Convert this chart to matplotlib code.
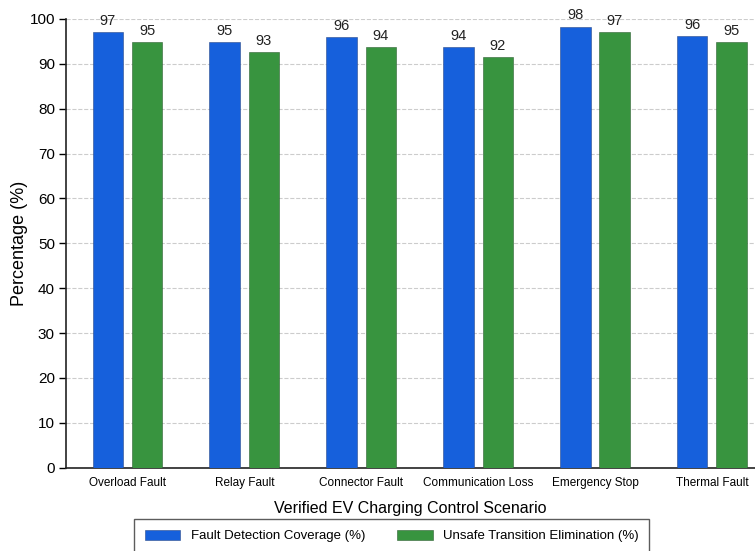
import matplotlib
matplotlib.use("Agg")
import matplotlib.pyplot as plt
import numpy as np

plt.rcParams['font.family'] = ['Liberation Sans', 'DejaVu Sans']

scenarios = ["Overload Fault", "Relay Fault", "Connector Fault",
             "Communication Loss", "Emergency Stop", "Thermal Fault"]
fault_detection = [97.1, 94.8, 95.9, 93.8, 98.3, 96.1]
unsafe_elimination = [94.9, 92.7, 93.8, 91.6, 97.1, 94.9]
series_names = ["Fault Detection Coverage (%)", "Unsafe Transition Elimination (%)"]

fig = plt.figure(figsize=(7.55, 5.51), dpi=100)
ax = fig.add_axes([66 / 755, 1 - 467.7 / 551, 689 / 755, (467.7 - 19) / 551])

x = np.arange(len(scenarios))
w = 0.26
off = 0.168
b1 = ax.bar(x - off, fault_detection, w, color='#1660DC', edgecolor='#2a4a8a',
            linewidth=0.4, label=series_names[0], zorder=3)
b2 = ax.bar(x + off, unsafe_elimination, w, color='#38943F', edgecolor='#2f5f33',
            linewidth=0.4, label=series_names[1], zorder=3)

for bars in (b1, b2):
    ax.bar_label(bars, labels=[f"{v:.0f}" for v in bars.datavalues],
                 padding=3, fontsize=10.5, color='#222222')

ax.set_ylim(0, 100)
ax.set_xlim(-0.525, -0.525 + 689 / 116.9)
ax.set_yticks(range(0, 101, 10))
ax.set_xticks(x)
ax.set_xticklabels(scenarios, fontsize=8.5)
ax.tick_params(axis='y', labelsize=11, length=5, width=1, pad=3)
ax.tick_params(axis='x', length=0, pad=7)

ax.yaxis.grid(True, linestyle='--', color='#cccccc', linewidth=0.8)
ax.set_axisbelow(True)
for s in ('top', 'right'):
    ax.spines[s].set_visible(False)
for s in ('left', 'bottom'):
    ax.spines[s].set_linewidth(1.2)
    ax.spines[s].set_color('#222222')

ax.set_xlabel("Verified EV Charging Control Scenario", fontsize=11.5, labelpad=8)
ax.set_ylabel("Percentage (%)", fontsize=13)
ax.yaxis.set_label_coords(-0.055, 0.5)

leg = fig.legend(loc='upper center', bbox_to_anchor=(0.519, 0.058), ncol=2,
                 fontsize=9.5, frameon=True, fancybox=False, edgecolor='#333333',
                 handlelength=2.7, handleheight=0.8, columnspacing=2.4,
                 borderpad=0.8, borderaxespad=0)
leg.get_frame().set_linewidth(1.0)

fig.savefig("out.png", dpi=100)
